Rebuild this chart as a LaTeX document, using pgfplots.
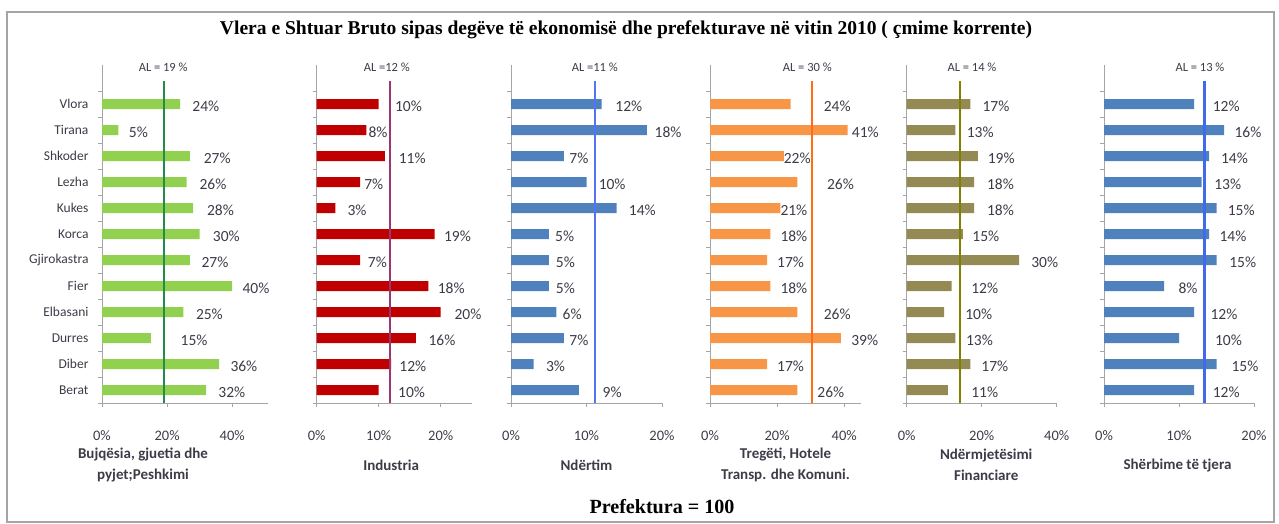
\documentclass[border=0pt]{standalone}
\usepackage{pgfplots}
\pgfplotsset{compat=1.18}
\usepackage{pgfplotstable}
\usepackage{fontspec}
\setmainfont{Carlito}
\newfontfamily\titlefont{Liberation Serif}
\definecolor{axisgray}{RGB}{165,165,165}
\definecolor{labdark}{RGB}{60,60,72}
\definecolor{cgreen}{RGB}{146,208,80}
\definecolor{algreen}{RGB}{35,140,75}
\definecolor{cred}{RGB}{192,0,0}
\definecolor{alred}{RGB}{155,55,110}
\definecolor{cblue}{RGB}{79,129,189}
\definecolor{alblue}{RGB}{85,115,245}
\definecolor{corange}{RGB}{247,150,70}
\definecolor{alorange}{RGB}{255,110,20}
\definecolor{colive}{RGB}{148,138,84}
\definecolor{alolive}{RGB}{128,128,0}
\definecolor{alblueb}{RGB}{65,105,235}

\pgfplotstableread{
idx val lx
11 24 31.9
10 5 11.2
9 27 35.4
8 26 34.1
7 28 36.4
6 30 38.2
5 27 34.7
4 40 47.3
3 25 33.0
2 15 28.3
1 36 43.6
0 32 39.9
}\tabA
\pgfplotstableread{
idx val lx
11 10 14.8
10 8 9.9
9 11 15.4
8 7 9.2
7 3 6.5
6 19 22.7
5 7 9.8
4 18 21.7
3 20 24.4
2 16 20.2
1 12 15.5
0 10 15.3
}\tabB
\pgfplotstableread{
idx val lx
11 12 15.6
10 18 20.8
9 7 9.0
8 10 13.4
7 14 17.4
6 5 7.1
5 5 7.2
4 5 7.2
3 6 8.1
2 7 9.0
1 3 5.9
0 9 13.4
}\tabC
\pgfplotstableread{
idx val lx
11 24 37.9
10 41 46.3
9 22 26.0
8 26 38.9
7 21 25.0
6 18 25.0
5 17 24.0
4 18 25.0
3 26 37.9
2 39 46.1
1 17 24.0
0 26 36.0
}\tabD
\pgfplotstableread{
idx val lx
11 17 23.8
10 13 19.6
9 19 25.2
8 18 25.0
7 18 25.0
6 15 21.1
5 30 36.8
4 12 20.8
3 10 19.2
2 13 19.4
1 17 23.5
0 11 20.8
}\tabE
\pgfplotstableread{
idx val lx
11 12 16.3
10 16 19.2
9 14 17.4
8 13 16.5
7 15 18.3
6 14 17.2
5 15 18.5
4 8 11.2
3 12 16.0
2 10 16.6
1 15 18.8
0 12 16.3
}\tabF

\pgfplotsset{
  panel/.style={
    scale only axis, height=338pt, anchor=south west,
    xmin=0, ymin=-0.5, ymax=12.5,
    clip=false,
    axis x line*=bottom, axis y line*=left,
    axis line style={draw=axisgray, line width=0.9pt},
    xtick align=outside, ytick align=outside,
    major tick length=4pt,
    tick style={draw=axisgray, line width=0.9pt},
    ytick={-0.5,0.5,...,11.5},
    yticklabels={,,,,,,,,,,,,,},
    /pgf/number format/assume math mode=true,
    xticklabel={\pgfmathprintnumber{\tick}\%},
    xticklabel style={font=\fontsize{14.5}{16}\selectfont, text=labdark, yshift=-20pt},
    xlabel style={font=\fontsize{15}{21}\selectfont\bfseries, text=labdark, align=center, anchor=center, yshift=-62pt},
  },
  vlabels/.style={
    only marks, mark=*, mark size=0pt, mark options={draw=none, fill=none},
    point meta=explicit,
    nodes near coords={\pgfmathprintnumber[assume math mode=true]{\pgfplotspointmeta}\%},
    every node near coord/.style={font=\fontsize{15.5}{16}\selectfont, text=labdark, anchor=center, yshift=-2pt},
  },
  bars/.style={xbar, bar width=10pt, draw=none, fill=#1},
  alline/.style={draw=#1, line width=2.4pt},
}
\newcommand{\alfont}{\fontsize{12.5}{13}\selectfont}

\begin{document}
\begin{tikzpicture}
\useasboundingbox (0,0) rectangle (1279pt,523pt);
\draw[draw=axisgray, line width=1.2pt] (7pt,511pt) rectangle (1274pt,1pt);
\node[anchor=base] at (626pt,488pt) {\resizebox{812pt}{!}{\titlefont\bfseries Vlera e Shtuar Bruto sipas degëve të ekonomisë dhe prefekturave në vitin 2010 ( çmime korrente)}};
\node[anchor=base] at (662pt,10pt) {\resizebox{145pt}{!}{\titlefont\bfseries Prefektura = 100}};

% Panel 1
\begin{axis}[panel, at={(102pt,120pt)}, width=166pt, xmax=51, xtick={0,20,40},
  extra y ticks={0,1,...,11},
  extra y tick labels={Berat,Diber,Durres,Elbasani,Fier,Gjirokastra,Korca,Kukes,Lezha,Shkoder,Tirana,Vlora},
  extra y tick style={tick style={draw=none}, yticklabel style={font=\fontsize{13.5}{15}\selectfont, text=labdark, xshift=-6pt}},
  xlabel={Bujqësia, gjuetia dhe\\pyjet;Peshkimi},
  xlabel style={at={(axis description cs:0.247,0)}}]
\addplot[bars=cgreen] table[x=val, y=idx] {\tabA};
\addplot[alline=algreen] coordinates {(19,-0.5) (19,11.9)};
\addplot[vlabels] table[x=lx, y=idx, meta=val] {\tabA};
\node[font=\alfont, text=labdark] at (axis cs:18.8,12.42) {AL = 19 \%};
\end{axis}

% Panel 2
\begin{axis}[panel, at={(316.7pt,120pt)}, width=155pt, xmax=25, xtick={0,10,20},
  xlabel={Industria}, xlabel style={at={(axis description cs:0.48,0)}}]
\addplot[bars=cred] table[x=val, y=idx] {\tabB};
\addplot[alline=alred] coordinates {(11.8,-0.5) (11.8,11.9)};
\addplot[vlabels] table[x=lx, y=idx, meta=val] {\tabB};
\node[font=\alfont, text=labdark] at (axis cs:11.3,12.42) {AL =12 \%};
\end{axis}

% Panel 3
\begin{axis}[panel, at={(511pt,120pt)}, width=151pt, xmax=20, xtick={0,10,20},
  xlabel={Ndërtim}, xlabel style={at={(axis description cs:0.5,0)}}]
\addplot[bars=cblue] table[x=val, y=idx] {\tabC};
\addplot[alline=alblue] coordinates {(11.1,-0.5) (11.1,11.9)};
\addplot[vlabels] table[x=lx, y=idx, meta=val] {\tabC};
\node[font=\alfont, text=labdark] at (axis cs:11.1,12.42) {AL =11 \%};
\end{axis}

% Panel 4
\begin{axis}[panel, at={(710pt,120pt)}, width=151pt, xmax=45, xtick={0,20,40},
  xlabel={Tregëti, Hotele\\Transp. dhe Komuni.}, xlabel style={at={(axis description cs:0.5,0)}}]
\addplot[bars=corange] table[x=val, y=idx] {\tabD};
\addplot[alline=alorange] coordinates {(30.4,-0.5) (30.4,11.9)};
\addplot[vlabels] table[x=lx, y=idx, meta=val] {\tabD};
\node[font=\alfont, text=labdark] at (axis cs:29,12.42) {AL = 30 \%};
\end{axis}

% Panel 5
\begin{axis}[panel, at={(906.7pt,120pt)}, width=150pt, xmax=40, xtick={0,20,40},
  xlabel={Ndërmjetësimi\\Financiare}, xlabel style={at={(axis description cs:0.53,0)}}]
\addplot[bars=colive] table[x=val, y=idx] {\tabE};
\addplot[alline=alolive] coordinates {(14.2,-0.5) (14.2,11.9)};
\addplot[vlabels] table[x=lx, y=idx, meta=val] {\tabE};
\node[font=\alfont, text=labdark] at (axis cs:17.4,12.42) {AL = 14 \%};
\end{axis}

% Panel 6
\begin{axis}[panel, at={(1104pt,120pt)}, width=150pt, xmax=20, xtick={0,10,20},
  xlabel={Shërbime të tjera}, xlabel style={at={(axis description cs:0.49,0)}}]
\addplot[bars=cblue] table[x=val, y=idx] {\tabF};
\addplot[alline=alblueb] coordinates {(13.4,-0.5) (13.4,11.9)};
\addplot[vlabels] table[x=lx, y=idx, meta=val] {\tabF};
\node[font=\alfont, text=labdark] at (axis cs:12.8,12.42) {AL = 13 \%};
\end{axis}
\end{tikzpicture}
\end{document}
